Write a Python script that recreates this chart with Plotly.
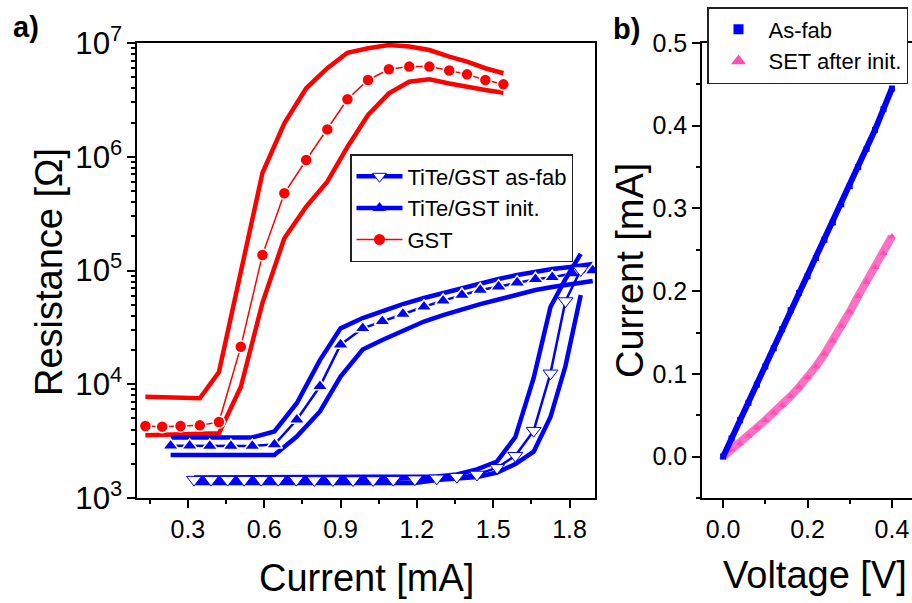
import plotly.graph_objects as go

# ---------------- Panel a) data : Resistance vs current ----------------
gst_current = [0.133, 0.199, 0.271, 0.347, 0.422, 0.508, 0.593, 0.679, 0.765, 0.848,
               0.927, 1.008, 1.090, 1.170, 1.249, 1.327, 1.397, 1.469, 1.540]
gst_r_mean = [4300, 4240, 4300, 4350, 4650, 21400, 1.37e5, 4.78e5, 9.36e5, 1.74e6,
              3.2e6, 4.73e6, 5.87e6, 6.2e6, 6.2e6, 5.73e6, 5.3e6, 4.73e6, 4.33e6]
gst_r_max = [7780, 7690, 7600, 7520, 12800, 93000, 7.2e5, 1.97e6, 4.0e6, 6.0e6,
             8.2e6, 8.98e6, 9.6e6, 9.3e6, 8.67e6, 7.58e6, 6.86e6, 6.0e6, 5.42e6]
gst_r_min = [3560, 3580, 3600, 3620, 3700, 9460, 5.18e4, 1.92e5, 3.64e5, 6.04e5,
             1.22e6, 2.33e6, 3.61e6, 4.57e6, 4.8e6, 4.41e6, 4.1e6, 3.86e6, 3.66e6]

init_current = [0.232, 0.307, 0.386, 0.469, 0.553, 0.640, 0.728, 0.819, 0.900, 0.987, 1.064,
                1.145, 1.228, 1.303, 1.377, 1.449, 1.521, 1.594, 1.666, 1.732, 1.812, 1.891]
init_r_mean = [2884, 2884, 2870, 2870, 2870, 2950, 4870, 9590, 22300, 31000, 35800,
               41500, 48000, 54300, 61000, 67400, 72100, 78200, 83800, 87200, 94200, 100000]
init_r_max = [3405, 3405, 3405, 3405, 3405, 3850, 6810, 16300, 31000, 38200, 44000,
              50700, 57300, 63400, 70200, 76900, 84200, 91300, 98000, 103000, 108000, 114000]
init_r_min = [2390, 2390, 2390, 2390, 2390, 2390, 3470, 5760, 11700, 20200, 24500,
              29400, 35600, 40600, 45900, 50700, 55600, 61500, 67400, 71600, 76100, 80900]

asfab_current = [0.324, 0.391, 0.456, 0.521, 0.588, 0.655, 0.726, 0.797, 0.870, 0.949, 1.028,
                 1.107, 1.192, 1.278, 1.357, 1.436, 1.515, 1.587, 1.659, 1.725, 1.784, 1.844]
asfab_r_mean = [1450, 1450, 1450, 1450, 1450, 1450, 1450, 1440, 1440, 1440, 1440,
                1450, 1465, 1490, 1540, 1610, 1846, 2354, 3907, 12480, 53900, 101000]
asfab_r_max = [1514, 1514, 1514, 1514, 1514, 1514, 1514, 1514, 1514, 1514, 1514,
               1514, 1514, 1545, 1610, 1782, 2095, 3434, 11350, 47800, 84200, 140000]
asfab_r_min = [1355, 1355, 1355, 1355, 1355, 1355, 1355, 1355, 1355, 1355, 1355,
               1355, 1355, 1439, 1478, 1531, 1676, 1990, 2554, 5150, 14450, 60950]

# ---------------- Panel b) data : I-V ----------------
voltage = [0.00, 0.02, 0.04, 0.06, 0.08, 0.10, 0.12, 0.14, 0.16, 0.18, 0.20,
           0.22, 0.24, 0.26, 0.28, 0.30, 0.32, 0.34, 0.36, 0.38, 0.40]
i_asfab = [0.000, 0.022, 0.044, 0.065, 0.087, 0.109, 0.131, 0.154, 0.177, 0.198, 0.218,
           0.240, 0.262, 0.283, 0.305, 0.327, 0.350, 0.372, 0.395, 0.420, 0.445]
i_set = [0.000, 0.008, 0.016, 0.025, 0.035, 0.044, 0.053, 0.062, 0.073, 0.084, 0.096,
         0.109, 0.124, 0.140, 0.158, 0.175, 0.194, 0.211, 0.229, 0.246, 0.266]

BLUE = "#0000FF"
RED = "#FF0000"
PINK = "#FF4DB0"
FONT = "Liberation Sans, Arial, sans-serif"

W, H = 912, 603


def px(x):
    return x / W


def py(y):
    return 1 - y / H


fig = go.Figure()

# GST envelopes + mean
for arr in (gst_r_max, gst_r_min):
    fig.add_trace(go.Scatter(x=gst_current, y=arr, mode="lines", showlegend=False,
                             line=dict(color=RED, width=4.5), hoverinfo="skip",
                             xaxis="x", yaxis="y"))
fig.add_trace(go.Scatter(x=gst_current, y=gst_r_mean, mode="lines+markers", showlegend=False,
                         line=dict(color=RED, width=1.5),
                         marker=dict(symbol="circle", size=12, color=RED,
                                     line=dict(color="white", width=1.5)),
                         xaxis="x", yaxis="y"))

# init envelopes + mean
for arr in (init_r_max, init_r_min):
    fig.add_trace(go.Scatter(x=init_current, y=arr, mode="lines", showlegend=False,
                             line=dict(color=BLUE, width=4.5), hoverinfo="skip",
                             xaxis="x", yaxis="y"))
fig.add_trace(go.Scatter(x=init_current, y=init_r_mean, mode="lines+markers", showlegend=False,
                         line=dict(color=BLUE, width=2.5),
                         marker=dict(symbol="triangle-up", size=14, color=BLUE,
                                     line=dict(color="white", width=1.5)),
                         xaxis="x", yaxis="y"))

# as-fab envelopes + mean
for arr in (asfab_r_max, asfab_r_min):
    fig.add_trace(go.Scatter(x=asfab_current, y=arr, mode="lines", showlegend=False,
                             line=dict(color=BLUE, width=4.5), hoverinfo="skip",
                             xaxis="x", yaxis="y"))
fig.add_trace(go.Scatter(x=asfab_current, y=asfab_r_mean, mode="lines+markers", showlegend=False,
                         line=dict(color=BLUE, width=2.5),
                         marker=dict(symbol="triangle-down", size=13, color="white",
                                     line=dict(color=BLUE, width=1)),
                         xaxis="x", yaxis="y"))

# legend entries panel a
fig.add_trace(go.Scatter(x=[None], y=[None], mode="lines+markers", name="TiTe/GST as-fab",
                         line=dict(color=BLUE, width=4.5),
                         marker=dict(symbol="triangle-down", size=12, color="white",
                                     line=dict(color=BLUE, width=1)),
                         legend="legend", xaxis="x", yaxis="y"))
fig.add_trace(go.Scatter(x=[None], y=[None], mode="lines+markers", name="TiTe/GST init.",
                         line=dict(color=BLUE, width=4.5),
                         marker=dict(symbol="triangle-up", size=12, color=BLUE),
                         legend="legend", xaxis="x", yaxis="y"))
fig.add_trace(go.Scatter(x=[None], y=[None], mode="lines+markers", name="GST",
                         line=dict(color=RED, width=1.5),
                         marker=dict(symbol="circle", size=11, color=RED),
                         legend="legend", xaxis="x", yaxis="y"))

# panel b traces
fig.add_trace(go.Scatter(x=voltage, y=i_set, mode="lines+markers", showlegend=False,
                         line=dict(color="#FF6FC4", width=8),
                         marker=dict(symbol="triangle-up", size=7, color=PINK),
                         xaxis="x2", yaxis="y2"))
fig.add_trace(go.Scatter(x=voltage, y=i_asfab, mode="lines+markers", showlegend=False,
                         line=dict(color=BLUE, width=6),
                         marker=dict(symbol="square", size=6, color=BLUE),
                         xaxis="x2", yaxis="y2"))
fig.add_trace(go.Scatter(x=[None], y=[None], mode="markers", name="As-fab",
                         marker=dict(symbol="square", size=10, color=BLUE),
                         legend="legend2", xaxis="x2", yaxis="y2"))
fig.add_trace(go.Scatter(x=[None], y=[None], mode="markers", name="SET after init.",
                         marker=dict(symbol="triangle-up", size=13, color=PINK),
                         legend="legend2", xaxis="x2", yaxis="y2"))

tickfont = dict(family=FONT, size=25, color="black")
common = dict(showgrid=False, zeroline=False, linecolor="black", linewidth=1.5,
              tickcolor="black", tickwidth=1.5, tickfont=tickfont, automargin=False)

dom_y = [py(498), py(43)]
dom_xa = [px(137), px(595)]
dom_xb = [px(702), 1.0]

fig.update_layout(
    width=W, height=H,
    margin=dict(l=0, r=0, t=0, b=0, autoexpand=False),
    paper_bgcolor="white", plot_bgcolor="white",
    font=dict(family=FONT, color="black"),
    xaxis=dict(domain=dom_xa, range=[0.1, 1.9], anchor="y", tick0=0, dtick=0.3,
               tickformat=".1f", ticks="outside", ticklen=8, showline=True, mirror=True,
               minor=dict(ticks="outside", ticklen=4, dtick=0.15, tick0=0,
                          tickcolor="black", tickwidth=1.5),
               **common),
    yaxis=dict(domain=dom_y, type="log", range=[3, 7], anchor="x", dtick=1,
               exponentformat="power", ticks="outside", ticklen=8, showline=True, mirror=True,
               minor=dict(ticks="outside", ticklen=4, dtick="D1",
                          tickcolor="black", tickwidth=1.5),
               **common),
    xaxis3=dict(overlaying="x", side="top", anchor="y", range=[0.1, 1.9], tick0=0, dtick=0.3,
                ticks="inside", ticklen=8, showticklabels=False, showline=False,
                minor=dict(ticks="inside", ticklen=4, dtick=0.15, tick0=0,
                           tickcolor="black", tickwidth=1.5),
                **common),
    yaxis3=dict(overlaying="y", side="right", anchor="x", type="log", range=[3, 7], dtick=1,
                ticks="inside", ticklen=8, showticklabels=False, showline=False,
                minor=dict(ticks="inside", ticklen=4, dtick="D1",
                           tickcolor="black", tickwidth=1.5),
                **common),
    xaxis2=dict(domain=dom_xb, range=[-0.05, 0.4476], anchor="y2", tick0=0, dtick=0.2,
                tickformat=".1f", ticks="outside", ticklen=8, showline=True, mirror=True,
                minor=dict(ticks="outside", ticklen=4, dtick=0.1, tick0=0,
                           tickcolor="black", tickwidth=1.5),
                **common),
    yaxis2=dict(domain=dom_y, range=[-0.05, 0.5], anchor="x2", tick0=0, dtick=0.1,
                tickformat=".1f", ticks="outside", ticklen=8, showline=True, mirror=False,
                minor=dict(ticks="outside", ticklen=4, dtick=0.05, tick0=0,
                           tickcolor="black", tickwidth=1.5),
                **common),
    yaxis4=dict(overlaying="y2", side="right", anchor="x2", range=[-0.05, 0.5], tick0=0,
                dtick=0.1, ticks="inside", ticklen=8, showticklabels=False, showline=False,
                minor=dict(ticks="inside", ticklen=4, dtick=0.05, tick0=0,
                           tickcolor="black", tickwidth=1.5),
                **common),
    legend=dict(x=px(350), y=py(154), xanchor="left", yanchor="top",
                xref="container", yref="container",
                bgcolor="white", bordercolor="#222", borderwidth=1.5,
                font=dict(family=FONT, size=22, color="black"),
                itemwidth=46, tracegroupgap=0),
    legend2=dict(x=px(707), y=py(7), xanchor="left", yanchor="top",
                 xref="container", yref="container",
                 bgcolor="white", bordercolor="#222", borderwidth=1.5,
                 font=dict(family=FONT, size=22, color="black"),
                 itemwidth=50, tracegroupgap=0),
    annotations=[
        dict(text="<b>a)</b>", x=px(11), y=py(27), xref="paper", yref="paper",
             xanchor="left", yanchor="middle", showarrow=False,
             font=dict(family=FONT, size=29, color="black")),
        dict(text="<b>b)</b>", x=px(611), y=py(29), xref="paper", yref="paper",
             xanchor="left", yanchor="middle", showarrow=False,
             font=dict(family=FONT, size=29, color="black")),
        dict(text="Resistance [Ω]", x=px(49), y=py(272), xref="paper", yref="paper",
             xanchor="center", yanchor="middle", textangle=-90, showarrow=False,
             font=dict(family=FONT, size=38, color="black")),
        dict(text="Current [mA]", x=px(366), y=py(578), xref="paper", yref="paper",
             xanchor="center", yanchor="middle", showarrow=False,
             font=dict(family=FONT, size=38, color="black")),
        dict(text="Current [mA]", x=px(630), y=py(271), xref="paper", yref="paper",
             xanchor="center", yanchor="middle", textangle=-90, showarrow=False,
             font=dict(family=FONT, size=38, color="black")),
        dict(text="Voltage [V]", x=px(815), y=py(575), xref="paper", yref="paper",
             xanchor="center", yanchor="middle", showarrow=False,
             font=dict(family=FONT, size=38, color="black")),
    ],
)

fig.write_html(
    "out.html",
    config={"displayModeBar": False},
    post_script="document.body.style.margin='0';document.body.style.overflow='hidden';",
)
